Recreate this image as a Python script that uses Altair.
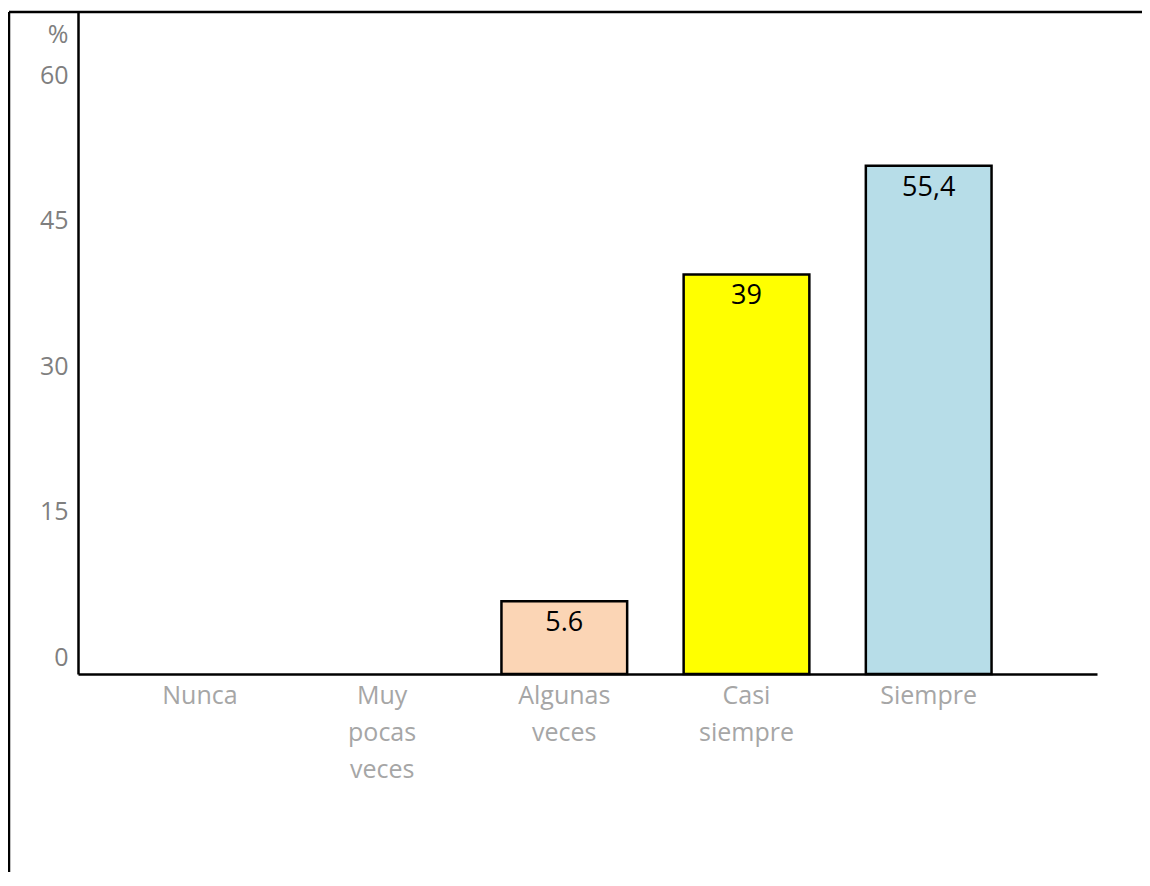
import altair as alt
import pandas as pd

# Data
categories = ["Nunca", "Muy pocas veces", "Algunas veces", "Casi siempre", "Siempre"]
bar_heights = [0, 0, 7.5, 41.2, 52.4]          # bar heights as drawn against the % axis
value_labels = ["", "", "5.6", "39", "55,4"]     # labels printed on the bars
bar_colors = ["#ffffff", "#ffffff", "#FBD5B5", "#FFFF00", "#B7DDE8"]
y_ticks = [0, 15, 30, 45, 60]

df = pd.DataFrame({"cat": categories, "value": bar_heights, "label": value_labels})

FONT = "Open Sans"
W, H = 1019, 662

x_scale = alt.Scale(domain=categories, paddingInner=0.31, paddingOuter=0.4515, align=0.359)

x_enc = alt.X(
    "cat:N",
    sort=categories,
    scale=x_scale,
    axis=alt.Axis(
        title=None,
        labelAngle=0,
        labelExpr="split(datum.label, ' ')",
        labelFont=FONT,
        labelFontSize=25,
        labelColor="#a6a6a6",
        labelLineHeight=37,
        labelBaseline="top",
        labelPadding=9,
        ticks=False,
        domainColor="black",
        domainWidth=2.5,
        grid=False,
    ),
)
y_enc = alt.Y(
    "value:Q",
    scale=alt.Scale(domain=[0, 68.25], nice=False, zero=True),
    axis=alt.Axis(
        title="%",
        titleAngle=0,
        titleAlign="right",
        titleBaseline="middle",
        titleX=-10,
        titleY=22,
        titleFont=FONT,
        titleFontSize=25,
        titleFontWeight="normal",
        titleColor="#7f7f7f",
        values=y_ticks,
        labelFont=FONT,
        labelFontSize=25,
        labelColor="#7f7f7f",
        labelOffset=-17,
        labelPadding=10,
        ticks=False,
        domainColor="black",
        domainWidth=2.5,
        grid=False,
    ),
)

base = alt.Chart(df)

bars = base.transform_filter("datum.value > 0").mark_bar(
    stroke="black", strokeWidth=2.5
).encode(
    x=x_enc,
    y=y_enc,
    color=alt.Color("cat:N", scale=alt.Scale(domain=categories, range=bar_colors), legend=None),
)

texts = base.transform_filter("datum.value > 0").mark_text(
    baseline="middle", dy=22, font=FONT, fontSize=27, color="black"
).encode(
    x=alt.X("cat:N", sort=categories, scale=x_scale),
    y=alt.Y("value:Q"),
    text="label:N",
)

frame_df = pd.DataFrame({"k": [0]})
frame_left = alt.Chart(frame_df).mark_rule(color="black", strokeWidth=2.5, clip=False).encode(
    x=alt.value(-69), y=alt.value(0), y2=alt.value(H + 198)
)
frame_top = alt.Chart(frame_df).mark_rule(color="black", strokeWidth=2.5, clip=False).encode(
    x=alt.value(-69), x2=alt.value(W + 45), y=alt.value(0)
)

chart = alt.layer(bars, texts, frame_left, frame_top).properties(
    width=W,
    height=H,
    background="white",
    padding={"left": 70, "top": 4, "right": 45, "bottom": 198},
    autosize=alt.AutoSizeParams(type="none"),
).configure_view(stroke=None, strokeWidth=0)

chart.save("out.html", embed_options={"renderer": "svg", "actions": False})
